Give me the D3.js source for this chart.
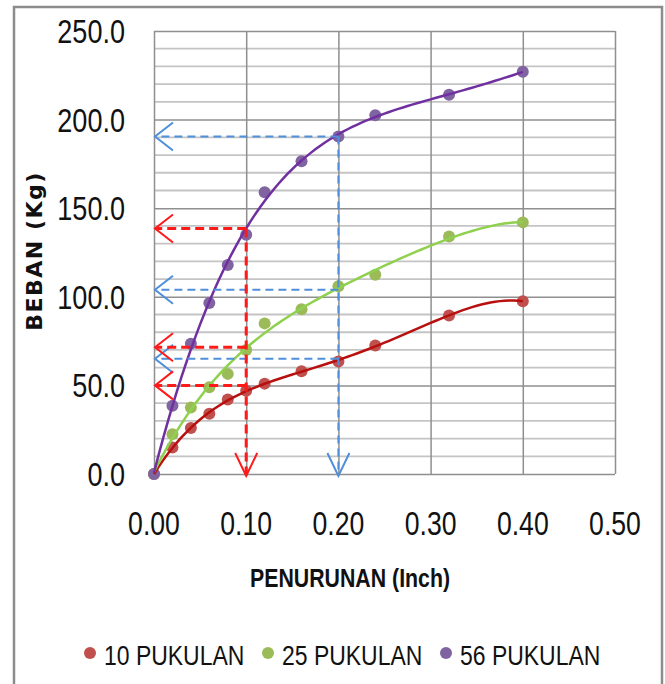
<!DOCTYPE html>
<html>
<head>
<meta charset="utf-8">
<script src="https://cdn.jsdelivr.net/npm/d3@7"></script>
<style>
  body { margin: 0; background: #fff; }
  svg { display: block; }
</style>
</head>
<body>
<svg id="chart" width="665" height="684"></svg>
<script>
// penurunan (inch) for each reading
var penurunan = [0.00, 0.02, 0.04, 0.06, 0.08, 0.10, 0.12, 0.16, 0.20, 0.24, 0.32, 0.40];
// beban (kg) per series
var beban10 = [0, 15, 26, 34, 42, 47, 51, 58, 63.5, 72.5, 89.5, 97.5];
var beban25 = [0, 22.5, 37.5, 49, 56.5, 70, 85, 93, 106, 112.5, 134, 142];
var beban56 = [0, 38.5, 73.5, 96.5, 118, 135, 159, 176.5, 190.5, 202.5, 214, 227];
var seriesNames = ["10 PUKULAN", "25 PUKULAN", "56 PUKULAN"];
var lineColors = ["#b80f0f", "#8fd14f", "#7030a0"];
var dotColors = ["#c0504d", "#9bbb59", "#8064a2"];

var xTicks = [0, 0.1, 0.2, 0.3, 0.4, 0.5];
var yTicks = [0, 50, 100, 150, 200, 250];

// reading lines: [penurunan, beban] ; red at 0.1", blue at 0.2"
var redReads = [[0.10, 138.5], [0.10, 71.5], [0.10, 50]];
var blueReads = [[0.20, 190.5], [0.20, 104], [0.20, 65]];

var svg = d3.select("#chart");
var x = d3.scaleLinear().domain([0, 0.5]).range([154, 615]);
var y = d3.scaleLinear().domain([0, 250]).range([474, 31]);

var sans = "Liberation Sans, Arial, sans-serif";
var squeeze = 0.82; // narrow look of the original font

// outer frame
svg.append("rect").attr("x", 14).attr("y", 7).attr("width", 648).attr("height", 690)
  .attr("fill", "none").attr("stroke", "#8c8c8c").attr("stroke-width", 2.5);

// minor grid
svg.append("g").selectAll("line").data(d3.range(10, 250, 10).filter(function(d){ return d % 50 !== 0; }))
  .enter().append("line")
  .attr("x1", x(0)).attr("x2", x(0.5))
  .attr("y1", function(d){ return y(d); }).attr("y2", function(d){ return y(d); })
  .attr("stroke", "#c4c4c4").attr("stroke-width", 1.8);

// major grid
svg.append("g")
  .attr("transform", "translate(" + x(0) + ",0)")
  .call(d3.axisLeft(y).tickValues(yTicks).tickSize(-(x(0.5) - x(0))).tickFormat(""))
  .call(function(g){ g.select(".domain").remove(); })
  .selectAll("line").attr("stroke", "#8f8f8f").attr("stroke-width", 1.5);
svg.append("g")
  .attr("transform", "translate(0," + y(0) + ")")
  .call(d3.axisBottom(x).tickValues(xTicks).tickSize(-(y(0) - y(250))).tickFormat(""))
  .call(function(g){ g.select(".domain").remove(); })
  .selectAll("line").attr("stroke", "#8f8f8f").attr("stroke-width", 1.5);

function at(px, py) { return "translate(" + px + "," + py + ") scale(" + squeeze + ",1)"; }

// tick labels
svg.append("g").selectAll("text").data(yTicks).enter().append("text")
  .attr("transform", function(d){ return at(125, y(d) + 12); })
  .attr("text-anchor", "end")
  .style("font-family", sans).style("font-size", "33px")
  .style("fill", "#111")
  .text(function(d){ return d3.format(".1f")(d); });
svg.append("g").selectAll("text").data(xTicks).enter().append("text")
  .attr("transform", function(d){ return at(x(d), 535); })
  .attr("text-anchor", "middle")
  .style("font-family", sans).style("font-size", "32.5px")
  .style("fill", "#111")
  .text(function(d){ return d3.format(".2f")(d); });

// axis titles
svg.append("text").attr("transform", at(350, 587)).attr("text-anchor", "middle")
  .style("font-family", sans).style("font-size", "26px")
  .style("font-weight", "bold").style("fill", "#111")
  .text("PENURUNAN (Inch)");
svg.append("text").attr("transform", "translate(42,251) rotate(-90)").attr("text-anchor", "middle")
  .style("font-family", "DejaVu Sans, Verdana, sans-serif").style("font-size", "22px")
  .style("font-weight", "bold").style("letter-spacing", "1.5px").style("fill", "#111")
  .text("BEBAN (Kg)");

// least squares polynomial trendline
function polyfit(xs, ys, deg) {
  var n = deg + 1, A = [], b = [];
  for (var i = 0; i < n; i++) {
    A.push([]);
    for (var j = 0; j < n; j++) {
      A[i].push(d3.sum(xs, function(v){ return Math.pow(v, i + j); }));
    }
    b.push(d3.sum(xs, function(v, k){ return ys[k] * Math.pow(v, i); }));
  }
  for (var c = 0; c < n; c++) {
    var p = c;
    for (var r = c + 1; r < n; r++) if (Math.abs(A[r][c]) > Math.abs(A[p][c])) p = r;
    var t = A[c]; A[c] = A[p]; A[p] = t; var tb = b[c]; b[c] = b[p]; b[p] = tb;
    for (var r2 = c + 1; r2 < n; r2++) {
      var f = A[r2][c] / A[c][c];
      for (var k = c; k < n; k++) A[r2][k] -= f * A[c][k];
      b[r2] -= f * b[c];
    }
  }
  var coef = new Array(n);
  for (var r3 = n - 1; r3 >= 0; r3--) {
    var s = b[r3];
    for (var k2 = r3 + 1; k2 < n; k2++) s -= A[r3][k2] * coef[k2];
    coef[r3] = s / A[r3][r3];
  }
  return function(v){ return d3.sum(coef, function(cf, i){ return cf * Math.pow(v, i); }); };
}

var allSeries = [beban10, beban25, beban56];
var line = d3.line().x(function(d){ return x(d[0]); }).y(function(d){ return y(d[1]); });

allSeries.forEach(function(vals, i) {
  svg.append("g").selectAll("circle").data(penurunan).enter().append("circle")
    .attr("cx", function(d){ return x(d); })
    .attr("cy", function(d, k){ return y(vals[k]); })
    .attr("r", 6)
    .attr("fill", dotColors[i]);
});

allSeries.forEach(function(vals, i) {
  var xs = penurunan.map(function(d){ return d * 10; });
  var fn = polyfit(xs, vals, 4);
  var pts = d3.range(0, 4.001, 0.05).map(function(v){ return [v / 10, fn(v)]; });
  svg.append("path").datum(pts).attr("d", line)
    .attr("fill", "none").attr("stroke", lineColors[i]).attr("stroke-width", 2.5);
});

// reading arrows
function drawReads(reads, color, width, dash) {
  var g = svg.append("g").attr("stroke", color).attr("fill", "none");
  reads.forEach(function(r, i) {
    g.append("line").attr("x1", x(r[0])).attr("y1", y(r[1])).attr("x2", x(0) + 2).attr("y2", y(r[1]))
      .attr("stroke-width", width).attr("stroke-dasharray", dash);
    g.append("path")
      .attr("d", "M" + (x(0) + 19) + "," + (y(r[1]) - 14) + "L" + (x(0) + 1) + "," + y(r[1]) + "L" + (x(0) + 19) + "," + (y(r[1]) + 14))
      .attr("stroke-width", 2);
    if (i === 0) {
      g.append("line").attr("x1", x(r[0])).attr("y1", y(r[1])).attr("x2", x(r[0])).attr("y2", y(0) + 2)
        .attr("stroke-width", width).attr("stroke-dasharray", dash);
      g.append("path")
        .attr("d", "M" + (x(r[0]) - 11) + "," + (y(0) - 21) + "L" + x(r[0]) + "," + (y(0) + 2) + "L" + (x(r[0]) + 11) + "," + (y(0) - 21))
        .attr("stroke-width", 2);
    }
  });
}
drawReads(blueReads, "#4f8fdc", 2, "8,5");
drawReads(redReads, "#ff1a1a", 3, "9,5");

// legend
var legendX = [90, 268, 446];
var legend = svg.append("g").selectAll("g").data(seriesNames).enter().append("g");
legend.append("circle").attr("cx", function(d, i){ return legendX[i]; }).attr("cy", 653).attr("r", 6)
  .attr("fill", function(d, i){ return dotColors[i]; });
legend.append("text").attr("transform", function(d, i){ return at(legendX[i] + 14, 665); })
  .style("font-family", sans).style("font-size", "28px").style("fill", "#111")
  .text(function(d){ return d; });
</script>
</body>
</html>
